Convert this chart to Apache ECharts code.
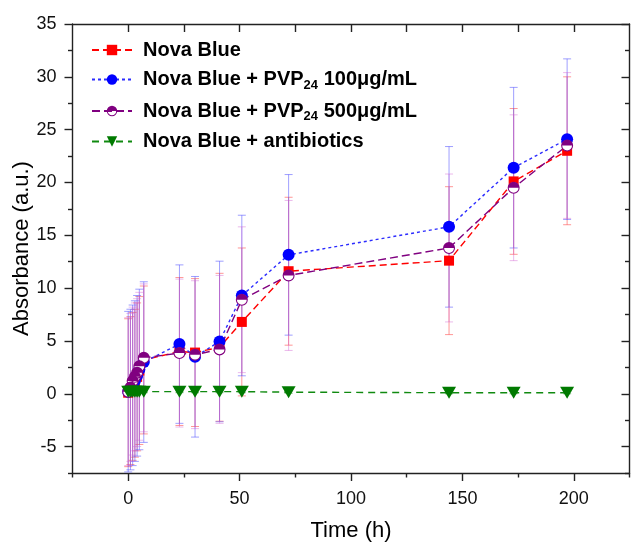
<!DOCTYPE html>
<html>
<head>
<meta charset="utf-8">
<script src="https://cdn.jsdelivr.net/npm/echarts@6/dist/echarts.min.js"></script>
<style>html,body{margin:0;padding:0;background:#fff}#c{width:631px;height:543px}</style>
</head>
<body>
<div id="c"></div>
<script>
// ---- data ----
const times = [0, 1, 2, 3, 4, 5, 7, 23, 30, 41, 51, 72, 144, 173, 197];
const novaBlue      = [0.1, 0.3, 0.7, 1.0, 1.6, 2.2, 3.2, 4.0, 3.9, 4.4, 6.8, 11.6, 12.6, 20.1, 23.0];
const novaBlueErr   = [7.0, 7.0, 7.0, 7.0, 7.0, 7.0, 7.0, 7.0, 7.0, 7.0, 7.0, 7.0, 7.0, 6.9, 7.0];
const pvp100        = [0.2, 0.4, 0.8, 1.2, 1.7, 2.3, 3.0, 4.7, 3.5, 4.95, 9.3, 13.15, 15.8, 21.4, 24.1];
const pvp100Err     = [7.6, 7.6, 7.6, 7.6, 7.6, 7.6, 7.6, 7.5, 7.6, 7.6, 7.6, 7.6, 7.6, 7.6, 7.6];
const pvp500        = [0.2, 0.6, 1.2, 1.6, 2.0, 2.6, 3.4, 3.85, 3.7, 4.2, 8.9, 11.2, 13.8, 19.5, 23.5];
const pvp500Err     = [7.0, 7.0, 7.0, 7.0, 7.0, 7.0, 7.0, 7.0, 7.0, 7.0, 6.9, 7.1, 7.0, 6.9, 6.9];
const antibiotics   = [0.2, 0.2, 0.2, 0.2, 0.2, 0.2, 0.2, 0.2, 0.2, 0.2, 0.2, 0.15, 0.1, 0.1, 0.1];
const antibioticsErr= [0.1, 0.1, 0.1, 0.1, 0.1, 0.1, 0.1, 0.1, 0.1, 0.1, 0.1, 0.1, 0.1, 0.1, 0.1];

const seriesNames = ['Nova Blue', 'Nova Blue + PVP24 100μg/mL', 'Nova Blue + PVP24 500μg/mL', 'Nova Blue + antibiotics'];
const xMajor = [0, 50, 100, 150, 200];
const xMinor = [-25, 25, 75, 125, 175, 225];
const xTop = [0, 25, 50, 75, 100, 125, 150, 175, 200];
const yMajor = [-5, 0, 5, 10, 15, 20, 25, 30, 35];
const yMinor = [-7.5, -2.5, 2.5, 7.5, 12.5, 17.5, 22.5, 27.5, 32.5];
const xTitle = 'Time (h)';
const yTitle = 'Absorbance (a.u.)';

const FONT = '"Liberation Sans", Arial, sans-serif';
const pts = arr => times.map((t, i) => [t, arr[i]]);
const errs = (arr, e) => times.map((t, i) => [t, arr[i] - e[i], arr[i] + e[i]]);

function errRender(color) {
  return function (params, api) {
    const x = api.value(0);
    const lo = api.coord([x, api.value(1)]);
    const hi = api.coord([x, api.value(2)]);
    const w = 4;
    const style = { stroke: color, lineWidth: 1 };
    return {
      type: 'group',
      children: [
        { type: 'line', shape: { x1: lo[0], y1: lo[1], x2: hi[0], y2: hi[1] }, style: style },
        { type: 'line', shape: { x1: lo[0] - w, y1: lo[1], x2: lo[0] + w, y2: lo[1] }, style: style },
        { type: 'line', shape: { x1: hi[0] - w, y1: hi[1], x2: hi[0] + w, y2: hi[1] }, style: style }
      ]
    };
  };
}
function errSeries(data, color) {
  return {
    type: 'custom', xAxisIndex: 0, yAxisIndex: 0, clip: true, z: 1, silent: true,
    renderItem: errRender(color), encode: { x: 0, y: [1, 2] }, data: data
  };
}

const halfCircle = 'path://M0,-10A10,10,0,1,1,0,10A10,10,0,1,1,0,-10ZM0,-8.2A8.2,8.2,0,1,0,0,8.2A8.2,8.2,0,1,0,0,-8.2ZM-8.2,0A8.2,8.2,0,0,1,8.2,0Z';

const axisLine = { show: true, onZero: false, lineStyle: { color: '#222', width: 1.4 } };
const noLine = { show: false, onZero: false };

const chart = echarts.init(document.getElementById('c'), null, { renderer: 'canvas' });
chart.setOption({
  animation: false,
  backgroundColor: '#fff',
  grid: { left: 72.5, right: 1.5, top: 24, bottom: 70, containLabel: false, outerBoundsMode: 'none' },
  legend: {
    orient: 'vertical', left: 86, top: 35, itemWidth: 40, itemHeight: 13, itemGap: 8.5,
    data: seriesNames,
    formatter: function (name) {
      if (name.indexOf('PVP24') >= 0) {
        const parts = name.split('PVP24');
        return '{a|' + parts[0] + 'PVP}{s|24}{a|' + parts[1] + '}';
      }
      return '{a|' + name + '}';
    },
    textStyle: {
      fontFamily: FONT, color: '#000', padding: [0, 0, 0, 6],
      rich: {
        a: { fontFamily: FONT, fontSize: 20, fontWeight: 'bold', color: '#000', lineHeight: 24 },
        s: { fontFamily: FONT, fontSize: 13, fontWeight: 'bold', color: '#000', lineHeight: 24, verticalAlign: 'bottom', padding: [10, 0, 0, 0] }
      }
    }
  },
  xAxis: [
    {
      type: 'value', position: 'bottom', min: -25, max: 225, interval: 25,
      axisLine: axisLine, splitLine: { show: false },
      axisTick: { show: true, inside: false, length: 8, customValues: xMajor, lineStyle: { color: '#222', width: 1.4 } },
      axisLabel: { customValues: xMajor, fontFamily: FONT, fontSize: 18, color: '#111', margin: 17 },
      name: xTitle, nameLocation: 'middle', nameGap: 47,
      nameTextStyle: { fontFamily: FONT, fontSize: 22, color: '#000' }
    },
    {
      type: 'value', position: 'bottom', min: -25, max: 225, interval: 25,
      axisLine: noLine, splitLine: { show: false }, axisLabel: { show: false },
      axisTick: { show: true, inside: false, length: 4.5, customValues: xMinor, lineStyle: { color: '#222', width: 1.4 } }
    },
    {
      type: 'value', position: 'top', min: -25, max: 225, interval: 25,
      axisLine: axisLine, splitLine: { show: false }, axisLabel: { show: false },
      axisTick: { show: true, inside: true, length: 8, customValues: xTop, lineStyle: { color: '#222', width: 1.4 } }
    }
  ],
  yAxis: [
    {
      type: 'value', position: 'left', min: -7.5, max: 35,
      axisLine: axisLine, splitLine: { show: false },
      axisTick: { show: true, inside: false, length: 8, customValues: yMajor, lineStyle: { color: '#222', width: 1.4 } },
      axisLabel: { customValues: yMajor, fontFamily: FONT, fontSize: 18, color: '#111', margin: 16 },
      name: yTitle, nameLocation: 'middle', nameGap: 40, nameRotate: 90, nameMoveOverlap: false,
      nameTextStyle: { fontFamily: FONT, fontSize: 22, color: '#000' }
    },
    {
      type: 'value', position: 'left', min: -7.5, max: 35,
      axisLine: noLine, splitLine: { show: false }, axisLabel: { show: false },
      axisTick: { show: true, inside: false, length: 4.5, customValues: yMinor, lineStyle: { color: '#222', width: 1.4 } }
    },
    {
      type: 'value', position: 'right', min: -7.5, max: 35,
      axisLine: axisLine, splitLine: { show: false }, axisLabel: { show: false },
      axisTick: { show: true, inside: true, length: 8, customValues: yMajor, lineStyle: { color: '#222', width: 1.4 } }
    },
    {
      type: 'value', position: 'right', min: -7.5, max: 35,
      axisLine: noLine, splitLine: { show: false }, axisLabel: { show: false },
      axisTick: { show: true, inside: true, length: 4.5, customValues: yMinor, lineStyle: { color: '#222', width: 1.4 } }
    }
  ],
  series: [
    errSeries(errs(novaBlue, novaBlueErr), 'rgba(255,80,80,0.6)'),
    errSeries(errs(pvp100, pvp100Err), 'rgba(80,80,255,0.55)'),
    errSeries(errs(pvp500, pvp500Err), 'rgba(210,100,210,0.45)'),
    errSeries(errs(antibiotics, antibioticsErr), 'rgba(0,128,0,0.5)'),
    {
      name: seriesNames[0], type: 'line', data: pts(novaBlue), z: 3,
      symbol: 'rect', symbolSize: 10,
      itemStyle: { color: '#ff0000' },
      lineStyle: { color: '#ff0000', width: 1.4, type: [7, 4] }
    },
    {
      name: seriesNames[1], type: 'line', data: pts(pvp100), z: 3,
      symbol: 'circle', symbolSize: 12,
      itemStyle: { color: '#0000ff' },
      lineStyle: { color: '#2b2bff', width: 1.4, type: [3, 3] }
    },
    {
      name: 'bg500', type: 'line', data: pts(pvp500), z: 3,
      symbol: 'circle', symbolSize: 11, itemStyle: { color: '#ffffff' },
      lineStyle: { width: 0, opacity: 0 }, silent: true
    },
    {
      name: seriesNames[2], type: 'line', data: pts(pvp500), z: 3,
      symbol: halfCircle, symbolSize: 12,
      itemStyle: { color: '#800080' },
      lineStyle: { color: '#800080', width: 1.4, type: [8, 4] }
    },
    {
      name: seriesNames[3], type: 'line', data: pts(antibiotics), z: 3,
      symbol: 'triangle', symbolRotate: 180, symbolSize: [14, 12],
      itemStyle: { color: '#007a00' },
      lineStyle: { color: '#108a10', width: 1.4, type: [7, 5] }
    }
  ]
});
</script>
</body>
</html>
